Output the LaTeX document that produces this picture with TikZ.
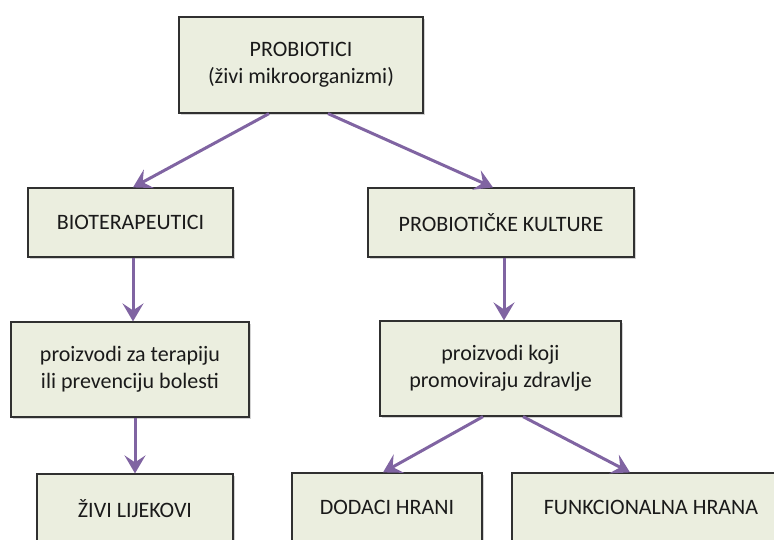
\documentclass[tikz,border=0pt]{standalone}
\usepackage{fontspec}
\setmainfont{Carlito}
\usetikzlibrary{arrows.meta,shadows}
\definecolor{boxfill}{HTML}{EBEEDF}
\definecolor{arrowpurple}{HTML}{8064A2}
\definecolor{boxline}{HTML}{303030}
\definecolor{txt}{HTML}{1A1A1A}
\tikzset{
  box/.style={draw=boxline, line width=1.2pt, fill=boxfill, inner sep=0pt,
    align=center, text=txt, font=\fontsize{22}{27}\selectfont,
    drop shadow={opacity=0.35, shadow xshift=2pt, shadow yshift=-2pt}},
  conn/.style={draw=arrowpurple, line width=3pt,
    -{Stealth[length=18pt, width=21pt, inset=7pt]}}
}
\begin{document}
\begin{tikzpicture}[x=1pt, y=-1pt]
\useasboundingbox (0,0) rectangle (774,539);
\clip (0,0) rectangle (774,539);
\node[box, minimum width=244pt, minimum height=96pt] (top) at (301,65) {PROBIOTICI\\(živi mikroorganizmi)};
\node[box, minimum width=205pt, minimum height=69pt] (bio) at (130.5,222.5) {BIOTERAPEUTICI};
\node[box, minimum width=266pt, minimum height=69pt] (kult) at (501,222.5) {PROBIOTIČKE KULTURE};
\node[box, minimum width=238pt, minimum height=95pt] (terap) at (130,369.5) {proizvodi za terapiju\\ili prevenciju bolesti};
\node[box, minimum width=241pt, minimum height=95pt] (zdrav) at (500.5,368.5) {proizvodi koji\\promoviraju zdravlje};
\node[box, minimum width=196pt, minimum height=69pt] (lijek) at (135,508.5) {ŽIVI LIJEKOVI};
\node[box, minimum width=190pt, minimum height=69pt] (dodaci) at (387,507.5) {DODACI HRANI};
\node[box, minimum width=278pt, minimum height=69pt] (funk) at (651,507.5) {FUNKCIONALNA HRANA};
\draw[conn] ([xshift=-32pt]top.south) -- ([xshift=2.5pt]bio.north);
\draw[conn] ([xshift=27pt]top.south) -- ([xshift=-8pt]kult.north);
\draw[conn] ([xshift=2.5pt]bio.south) -- ([xshift=2.5pt]bio.south |- terap.north);
\draw[conn] ([xshift=5pt]terap.south) -- ([xshift=5pt]terap.south |- lijek.north);
\draw[conn] ([xshift=3pt]kult.south) -- ([xshift=3pt]kult.south |- zdrav.north);
\draw[conn] ([xshift=-17.5pt]zdrav.south) -- ([xshift=-4pt]dodaci.north);
\draw[conn] ([xshift=22.5pt]zdrav.south) -- ([xshift=-21pt]funk.north);
\end{tikzpicture}
\end{document}
